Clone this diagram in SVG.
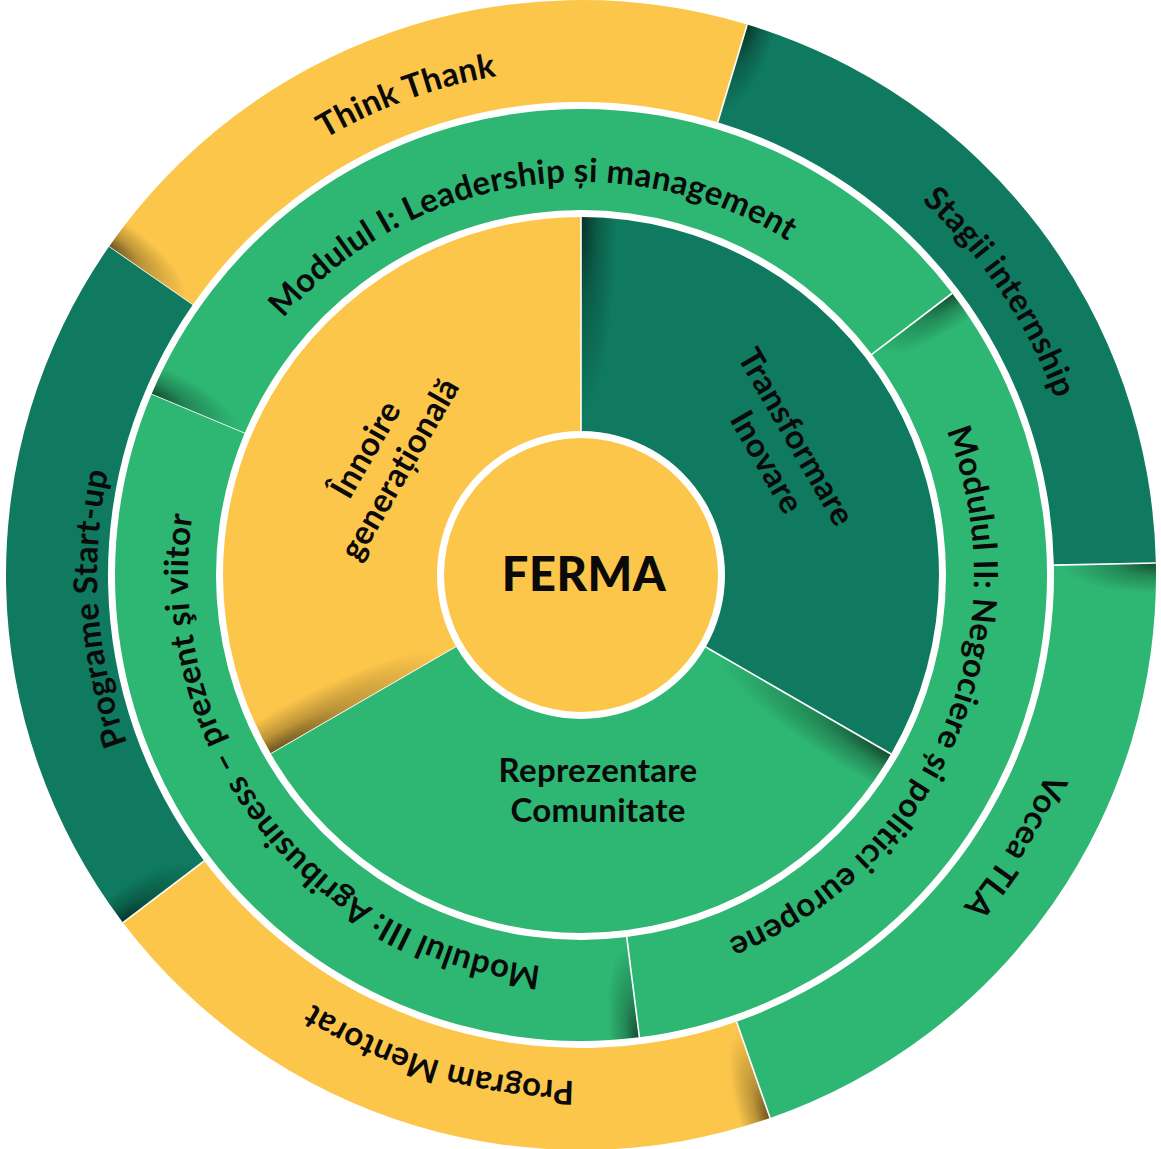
<svg xmlns="http://www.w3.org/2000/svg" width="1161" height="1149" viewBox="0 0 1161 1149">
<style>
.y{fill:#FCC64B}.dg{fill:#0F7A60}.g{fill:#2EB673}
.sep{stroke:#ffffff;stroke-width:1.6}
text{font-family:Lato,"Open Sans","Liberation Sans",sans-serif;font-weight:700;fill:#0a0a0a}
.lbl{font-size:33px;letter-spacing:0.3px}
.ferma{font-size:47px;font-weight:900;letter-spacing:0.5px}
</style>
<defs>
<path id="pO" d="M575,0 A575,575 0 0 1 177.68,546.86 L146.16,449.85 A473,473 0 0 0 473,0 Z"/>
<path id="pM" d="M466,0 A466,466 0 0 1 -233,403.57 L-182.5,316.1 A365,365 0 0 0 365,0 Z"/>
<path id="pI" d="M358,0 A358,358 0 0 1 -179,310.04 L-72,124.71 A144,144 0 0 0 144,0 Z"/>
<clipPath id="cO"><use href="#pO"/></clipPath>
<clipPath id="cM"><use href="#pM"/></clipPath>
<clipPath id="cI"><use href="#pI"/></clipPath>
<radialGradient id="sO" gradientUnits="userSpaceOnUse" cx="0" cy="0" r="1" gradientTransform="matrix(95 0 0 30 578 0)">
<stop offset="0" stop-color="#000" stop-opacity="0.6"/><stop offset="0.45" stop-color="#000" stop-opacity="0.25"/><stop offset="1" stop-color="#000" stop-opacity="0"/>
</radialGradient>
<radialGradient id="sM" gradientUnits="userSpaceOnUse" cx="0" cy="0" r="1" gradientTransform="matrix(95 0 0 30 469 0)">
<stop offset="0" stop-color="#000" stop-opacity="0.6"/><stop offset="0.45" stop-color="#000" stop-opacity="0.25"/><stop offset="1" stop-color="#000" stop-opacity="0"/>
</radialGradient>
<radialGradient id="sI" gradientUnits="userSpaceOnUse" cx="0" cy="0" r="1" gradientTransform="matrix(200 0 0 36 361 0)">
<stop offset="0" stop-color="#000" stop-opacity="0.6"/><stop offset="0.45" stop-color="#000" stop-opacity="0.25"/><stop offset="1" stop-color="#000" stop-opacity="0"/>
</radialGradient>
<path id="a506" d="M0,-506 A506,506 0 0 1 0,506"/>
<path id="a484" d="M0,-484 A484,484 0 0 1 0,484"/>
<path id="a393" d="M0,-393 A393,393 0 0 1 0,393"/>
</defs>
<rect width="1161" height="1149" fill="#ffffff"/>

<g id="think-thank"><g transform="translate(581 575) rotate(214.8)">
<use href="#pO" class="y"/><rect x="430" y="0" width="160" height="50" fill="url(#sO)" clip-path="url(#cO)"/><line x1="473" y1="0" x2="575" y2="0" class="sep"/>
<g transform="rotate(35.2)"><text class="lbl" text-anchor="middle"><textPath href="#a506" startOffset="50%">Think Thank</textPath></text></g>
</g></g>
<g id="stagii-internship"><g transform="translate(581 575) rotate(286.8)">
<use href="#pO" class="dg"/><rect x="430" y="0" width="160" height="50" fill="url(#sO)" clip-path="url(#cO)"/><line x1="473" y1="0" x2="575" y2="0" class="sep"/>
<g transform="rotate(39.2)"><text class="lbl" text-anchor="middle"><textPath href="#a506" startOffset="50%">Stagii internship</textPath></text></g>
</g></g>
<g id="vocea-tla"><g transform="translate(581 575) rotate(358.8)">
<use href="#pO" class="g"/><rect x="430" y="0" width="160" height="50" fill="url(#sO)" clip-path="url(#cO)"/><line x1="473" y1="0" x2="575" y2="0" class="sep"/>
<g transform="rotate(33.2)"><text class="lbl" text-anchor="middle"><textPath href="#a506" startOffset="50%">Vocea TLA</textPath></text></g>
</g></g>
<g id="program-mentorat"><g transform="translate(581 575) rotate(70.8)">
<use href="#pO" class="y"/><rect x="430" y="0" width="160" height="50" fill="url(#sO)" clip-path="url(#cO)"/><line x1="473" y1="0" x2="575" y2="0" class="sep"/>
<g transform="rotate(35.6)"><text class="lbl" text-anchor="middle"><textPath href="#a506" startOffset="50%">Program Mentorat</textPath></text></g>
</g></g>
<g id="programe-start-up"><g transform="translate(581 575) rotate(142.8)">
<use href="#pO" class="dg"/><rect x="430" y="0" width="160" height="50" fill="url(#sO)" clip-path="url(#cO)"/><line x1="473" y1="0" x2="575" y2="0" class="sep"/>
<g transform="rotate(33.2)"><text class="lbl" text-anchor="middle"><textPath href="#a484" startOffset="50%">Programe Start-up</textPath></text></g>
</g></g>

<g id="modulul-1"><g transform="translate(581 575) rotate(202.8)">
<use href="#pM" class="g"/><rect x="330" y="0" width="150" height="50" fill="url(#sM)" clip-path="url(#cM)"/><line x1="365" y1="0" x2="466" y2="0" class="sep"/>
<g transform="rotate(58.5)"><text class="lbl" text-anchor="middle"><textPath href="#a393" startOffset="50%">Modulul I: Leadership și management</textPath></text></g>
</g></g>
<g id="modulul-2"><g transform="translate(581 575) rotate(322.8)">
<use href="#pM" class="g"/><rect x="330" y="0" width="150" height="50" fill="url(#sM)" clip-path="url(#cM)"/><line x1="365" y1="0" x2="466" y2="0" class="sep"/>
<g transform="rotate(60.5)"><text class="lbl" text-anchor="middle"><textPath href="#a393" startOffset="50%">Modulul II: Negociere și politici europene</textPath></text></g>
</g></g>
<g id="modulul-3"><g transform="translate(581 575) rotate(82.8)">
<use href="#pM" class="g"/><rect x="330" y="0" width="150" height="50" fill="url(#sM)" clip-path="url(#cM)"/><line x1="365" y1="0" x2="466" y2="0" class="sep"/>
<g transform="rotate(59.5)"><text class="lbl" text-anchor="middle"><textPath href="#a393" startOffset="50%">Modulul III: Agribusiness – prezent şi viitor</textPath></text></g>
</g></g>

<g id="innoire"><g transform="translate(581 575) rotate(150)">
<use href="#pI" class="y"/><rect x="140" y="0" width="230" height="60" fill="url(#sI)" clip-path="url(#cI)"/><line x1="144" y1="0" x2="358" y2="0" class="sep"/>
</g>
<text class="lbl" text-anchor="middle" transform="translate(382.5 459) rotate(-60)"><tspan x="0" y="-8">Înnoire</tspan><tspan x="0" y="31">generațională</tspan></text>
</g>
<g id="transformare"><g transform="translate(581 575) rotate(270)">
<use href="#pI" class="dg"/><rect x="140" y="0" width="230" height="60" fill="url(#sI)" clip-path="url(#cI)"/><line x1="144" y1="0" x2="358" y2="0" class="sep"/>
</g>
<text class="lbl" text-anchor="middle" transform="translate(781.75 448.75) rotate(60)"><tspan x="-3" y="-7">Transformare</tspan><tspan x="4" y="31">Inovare</tspan></text>
</g>
<g id="reprezentare"><g transform="translate(581 575) rotate(30)">
<use href="#pI" class="g"/><rect x="140" y="0" width="230" height="60" fill="url(#sI)" clip-path="url(#cI)"/><line x1="144" y1="0" x2="358" y2="0" class="sep"/>
</g>
<text class="lbl" text-anchor="middle"><tspan x="598" y="782">Reprezentare</tspan><tspan x="598" y="822">Comunitate</tspan></text>
</g>

<g id="ferma">
<circle cx="581" cy="575" r="137" class="y"/>
<text class="ferma" x="584" y="591" text-anchor="middle">FERMA</text>
</g>
<g id="connectors"/>
</svg>
